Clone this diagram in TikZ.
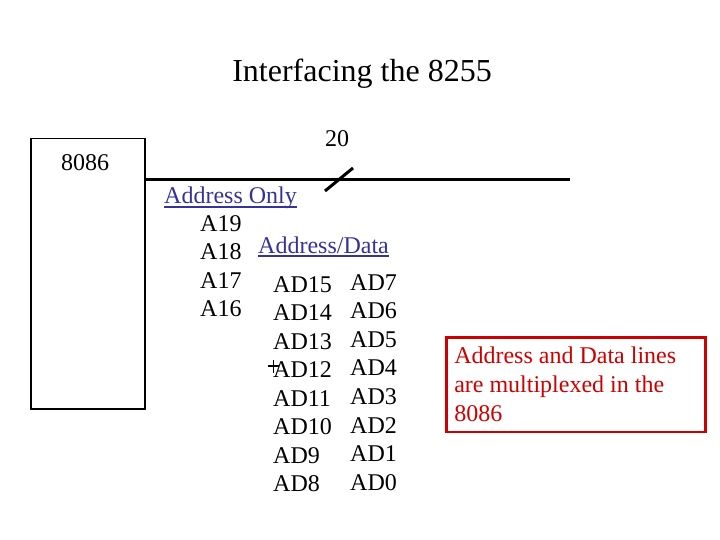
\documentclass[tikz,border=0pt]{standalone}
\usepackage{fontspec}
\setmainfont{Liberation Serif}
\definecolor{busblue}{RGB}{51,51,153}
\definecolor{notered}{RGB}{204,0,0}
\begin{document}
\begin{tikzpicture}[x=1pt,y=-1pt,
    lbl/.style={anchor=base west,inner sep=0,font=\fontsize{24}{29}\selectfont},
    head/.style={lbl,text=busblue}]
  \useasboundingbox (0,0) rectangle (720,540);

  \node[anchor=base,inner sep=0,font=\fontsize{32}{38}\selectfont] (title) at (362,82) {Interfacing the 8255};

  \node[draw,line width=1.5,minimum width=114,minimum height=270,anchor=north west,inner sep=0] (cpu) at (30,138) {};
  \node[lbl,anchor=base] (cpuname) at (85,171) {8086};

  \coordinate (busend) at (570,180);
  \draw [line width=3] (cpu.north east |- busend) -- (busend);
  \draw [line width=3] (325,191) -- (353,168);
  \node[lbl,anchor=base] (buswidth) at (337,147) {20};

  \node[head] (addronly) at (164,204) {Address Only};
  \draw [busblue,line width=2] ([yshift=-3]addronly.base west) -- ([yshift=-3]addronly.base east);
  \foreach \n [count=\i from 0] in {19,18,17,16}
    \node[lbl] (a\n) at (200,{231+28.6*\i}) {A\n};

  \node[head] (addrdata) at (258,253) {Address/Data};
  \draw [busblue,line width=2] ([yshift=-3]addrdata.base west) -- ([yshift=-3]addrdata.base east);
  \foreach \n [count=\i from 0] in {15,14,13,12,11,10,9,8} {
    \pgfmathtruncatemacro\m{\n-8}
    \node[lbl] (ad\n) at (273,{292+28.5*\i}) {AD\n};
    \node[lbl] (ad\m) at (350,{290+28.6*\i}) {AD\m};
  }
  % stray cursor mark
  \draw [line width=1.6] (268,366) -- (279,366) (273.5,360) -- (273.5,373);

  \node[draw=notered,line width=2.5,text=notered,anchor=north west,text width=243,
        inner xsep=8,inner ysep=10,align=flush left,font=\fontsize{24}{29}\selectfont] (note) at (445,336)
    {Address and Data lines\\are multiplexed in the\\8086};
\end{tikzpicture}
\end{document}
